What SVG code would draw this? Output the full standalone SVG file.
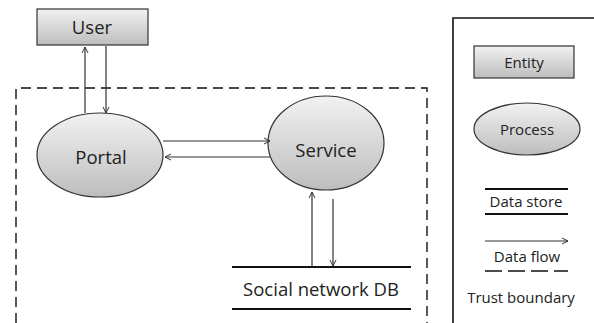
<svg xmlns="http://www.w3.org/2000/svg" width="594" height="323" viewBox="0 0 594 323">
<defs>
<linearGradient id="g" x1="0" y1="0" x2="0" y2="1"><stop offset="0" stop-color="#f2f2f2"/><stop offset="1" stop-color="#bdbdbd"/></linearGradient>
<marker id="a" markerWidth="8" markerHeight="8" refX="7" refY="4" orient="auto" markerUnits="userSpaceOnUse"><path d="M1,1 L7,4 L1,7" fill="none" stroke="#333" stroke-width="1"/></marker>
<style>
.n{fill:url(#g);stroke:#333;stroke-width:1.2}
.t{font-family:"Open Sans","Liberation Sans",sans-serif;fill:#222;text-anchor:middle}
.f{stroke:#333;stroke-width:1.2;fill:none;marker-end:url(#a)}
.s{stroke:#111;stroke-width:2.2}
.d{stroke:#111;stroke-width:1.4;stroke-dasharray:10,6;fill:none}
</style>
</defs>
<rect width="594" height="323" fill="#fff"/>
<path class="d" d="M16,323 V88 H427 V323"/>
<g id="user"><rect class="n" x="37" y="9" width="111" height="36"/><text class="t" x="92" y="34" font-size="18.5">User</text></g>
<g id="portal"><ellipse class="n" cx="100" cy="155" rx="63" ry="42"/><text class="t" x="101" y="164" font-size="18.5">Portal</text></g>
<g id="service"><ellipse class="n" cx="326" cy="143" rx="58" ry="47"/><text class="t" x="326" y="157" font-size="18.5">Service</text></g>
<g id="db"><line class="s" x1="232" y1="267" x2="411" y2="267"/><line class="s" x1="232" y1="309" x2="411" y2="309"/><text class="t" x="321" y="296" font-size="18.5">Social network DB</text></g>
<g id="connectors">
<line class="f" x1="85" y1="113" x2="85" y2="47"/>
<line class="f" x1="106" y1="46" x2="106" y2="113"/>
<line class="f" x1="163" y1="141" x2="270" y2="141"/>
<line class="f" x1="270" y1="157" x2="165" y2="157"/>
<line class="f" x1="312" y1="267" x2="312" y2="192"/>
<line class="f" x1="333" y1="199" x2="333" y2="266"/>
</g>
<g id="legend">
<path d="M453,323 V18 H594" fill="none" stroke="#111" stroke-width="1.6"/>
<rect class="n" x="474" y="46" width="100" height="32"/><text class="t" x="524" y="68" font-size="15">Entity</text>
<ellipse class="n" cx="527" cy="129" rx="53" ry="26"/><text class="t" x="527" y="135" font-size="15">Process</text>
<line class="s" x1="485" y1="189" x2="568" y2="189"/><line class="s" x1="485" y1="214" x2="568" y2="214"/><text class="t" x="526" y="207" font-size="15">Data store</text>
<line class="f" x1="485" y1="241" x2="568" y2="241"/><text class="t" x="527" y="262" font-size="15">Data flow</text>
<line x1="485" y1="271" x2="568" y2="271" stroke="#111" stroke-width="1.4" stroke-dasharray="17,6"/><text class="t" x="521" y="303" font-size="15">Trust boundary</text>
</g>
</svg>
